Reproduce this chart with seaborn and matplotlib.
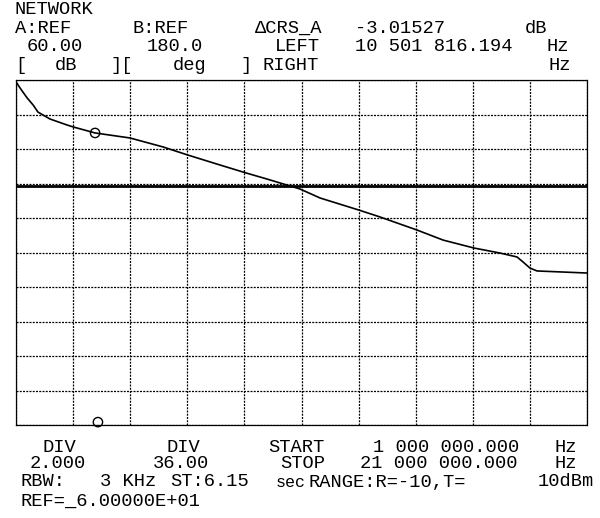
import numpy as np
import pandas as pd
import matplotlib
matplotlib.use("Agg")
import matplotlib.pyplot as plt
import seaborn as sns

freq_mhz = [1.00, 1.14, 1.39, 1.60, 1.77, 2.19, 2.79, 3.00, 3.77, 4.99, 6.15, 7.02,
            8.15, 9.06, 9.79, 10.95, 11.65, 13.01, 13.75, 15.05, 15.96, 17.04,
            17.95, 18.55, 18.76, 19.00, 19.25, 21.00]
trace_a_db = [59.90, 59.54, 58.96, 58.55, 58.14, 57.74, 57.39, 57.28, 56.93, 56.64,
              56.12, 55.65, 55.07, 54.61, 54.26, 53.68, 53.16, 52.46, 52.06, 51.30,
              50.72, 50.26, 49.97, 49.74, 49.45, 49.10, 48.93, 48.81]
phase_freq_mhz = [1.0, 21.0]
trace_b_deg = [69.0, 69.0]
marker_a_freq = [3.77]
marker_a_db = [56.93]
marker_b_freq = [3.87]
marker_b_deg = [-177.0]

x_ticks = np.arange(1, 22, 2)       # START 1 MHz, STOP 21 MHz, 2 MHz/div
y_ticks_db = np.arange(40, 61, 2)   # REF 60 dB, 2 dB/div

df_a = pd.DataFrame({"freq": freq_mhz, "db": trace_a_db})
df_b = pd.DataFrame({"freq": phase_freq_mhz, "deg": trace_b_deg})

sns.set_theme(style="white")
plt.rcParams["font.family"] = ["Liberation Mono", "DejaVu Sans Mono"]

W, H = 600, 518
fig = plt.figure(figsize=(6, 5.18), dpi=100)
ax = fig.add_axes([16 / W, 1 - 425 / H, 571 / W, 345 / H])

sns.lineplot(data=df_a, x="freq", y="db", ax=ax, color="black", lw=1.2)
sns.scatterplot(x=marker_a_freq, y=marker_a_db, ax=ax, s=45, facecolor="none",
                edgecolor="black", linewidth=1.0, zorder=5)
ax.set_xlim(1, 21)
ax.set_ylim(40, 60)
ax.set_xticks(x_ticks)
ax.set_yticks(y_ticks_db)
ax.grid(True, color="black", linestyle=(0, (1.6, 1.0)), lw=0.9)
ax.tick_params(length=0, labelbottom=False, labelleft=False)
ax.set_xlabel("")
ax.set_ylabel("")
for s in ax.spines.values():
    s.set_linestyle((0, (1.6, 1.0)))
    s.set_color("black")
    s.set_linewidth(0.9)

ax2 = ax.twinx()
sns.lineplot(data=df_b, x="freq", y="deg", ax=ax2, color="black", lw=2.0)
sns.scatterplot(x=marker_b_freq, y=marker_b_deg, ax=ax2, s=45, facecolor="none",
                edgecolor="black", linewidth=1.0, zorder=5, clip_on=False)
ax2.set_ylim(-180, 180)
ax2.set_yticks([])
ax2.set_ylabel("")
for s in ax2.spines.values():
    s.set_visible(False)


def put(x, y, s, size=13.5):
    fig.text(x / W, 1 - y / H, s, ha="left", va="center", fontsize=size, color="black")


# header
put(15, 9, "NETWORK")
put(15, 28.5, "A:REF")
put(132, 28.5, "B:REF")
put(255, 28.5, "ΔCRS_A")
put(355, 28.5, "-3.01527")
put(525, 28.5, "dB")
put(27, 46.5, "60.00")
put(147, 46.5, "180.0")
put(275, 46.5, "LEFT")
put(355, 46.5, "10 501 816.194")
put(547, 46.5, "Hz")
put(15, 65.5, "[")
put(55, 65.5, "dB")
put(110, 65.5, "][")
put(173, 65.5, "deg")
put(240, 65.5, "]")
put(262, 65.5, "RIGHT")
put(548, 65.5, "Hz")

# footer
put(43, 447.5, "DIV")
put(167, 447.5, "DIV")
put(268, 447.5, "START")
put(373, 447.5, "1 000 000.000")
put(555, 447.5, "Hz")
put(30, 464, "2.000")
put(153, 464, "36.00")
put(280, 464, "STOP")
put(360, 464, "21 000 000.000")
put(555, 464, "Hz")
put(20, 482, "RBW:")
put(100, 482, "3 KHz")
put(170, 482, "ST:6.15")
put(276, 482.5, "sec", size=12)
put(308, 482, "RANGE:R=-10,T=")
put(538, 482, "10dBm")
put(20, 501, "REF=_6.00000E+01")

fig.savefig("out.png", dpi=100, facecolor="white")
